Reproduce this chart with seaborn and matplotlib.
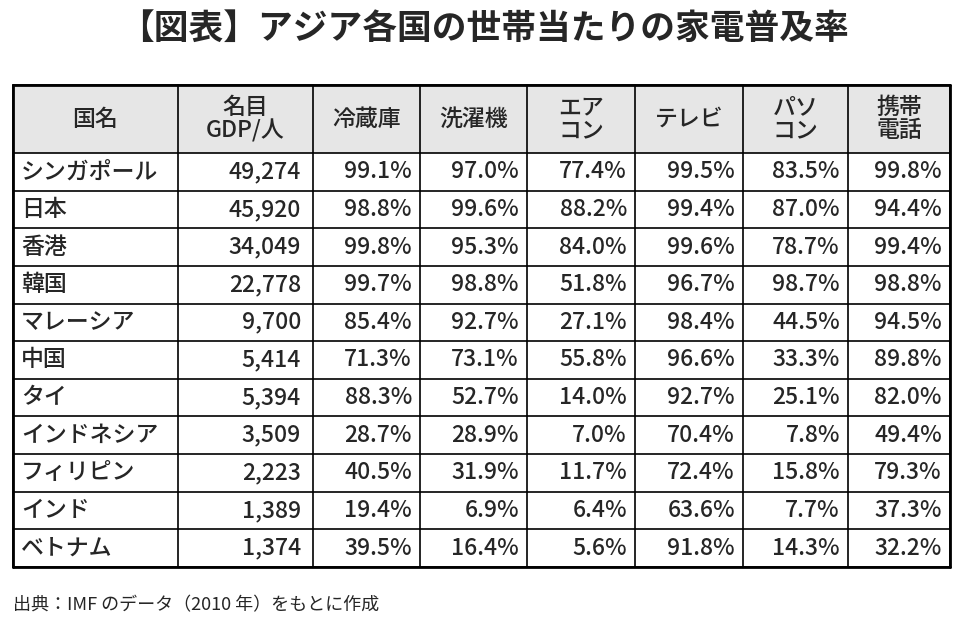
import matplotlib
matplotlib.use("Agg")
import matplotlib.pyplot as plt
import seaborn as sns
from matplotlib.patches import Rectangle

sns.set_theme(style="white")
plt.rcParams["font.family"] = "Noto Sans CJK JP"

title = "【図表】アジア各国の世帯当たりの家電普及率"
headers = ["国名", "名目\nGDP/人", "冷蔵庫", "洗濯機", "エア\nコン", "テレビ", "パソ\nコン", "携帯\n電話"]
countries = ["シンガポール", "日本", "香港", "韓国", "マレーシア", "中国", "タイ", "インドネシア", "フィリピン", "インド", "ベトナム"]
gdp = [49274, 45920, 34049, 22778, 9700, 5414, 5394, 3509, 2223, 1389, 1374]
fridge = [99.1, 98.8, 99.8, 99.7, 85.4, 71.3, 88.3, 28.7, 40.5, 19.4, 39.5]
washer = [97.0, 99.6, 95.3, 98.8, 92.7, 73.1, 52.7, 28.9, 31.9, 6.9, 16.4]
aircon = [77.4, 88.2, 84.0, 51.8, 27.1, 55.8, 14.0, 7.0, 11.7, 6.4, 5.6]
tv = [99.5, 99.4, 99.6, 96.7, 98.4, 96.6, 92.7, 70.4, 72.4, 63.6, 91.8]
pc = [83.5, 87.0, 78.7, 98.7, 44.5, 33.3, 25.1, 7.8, 15.8, 7.7, 14.3]
mobile = [99.8, 94.4, 99.4, 98.8, 94.5, 89.8, 82.0, 49.4, 79.3, 37.3, 32.2]
source = "出典：IMF のデータ（2010 年）をもとに作成"

fig = plt.figure(figsize=(9.69, 6.26), dpi=100)
ax = fig.add_axes([0, 0, 1, 1])
ax.set_xlim(0, 969); ax.set_ylim(626, 0); ax.axis("off")

xe = [13, 178, 313, 420, 527, 635, 743, 848, 950]
top, hb, bot = 85, 153, 567
rh = (bot - hb) / len(countries)

ax.add_patch(Rectangle((xe[0], top), xe[-1]-xe[0], hb-top, facecolor="#e6e6e6", edgecolor="none"))
for i, h in enumerate(headers):
    ax.text((xe[i]+xe[i+1])/2, (top+hb)/2, h, ha="center", va="center", fontsize=16.5, linespacing=1.0, fontweight="medium")

cols = [fridge, washer, aircon, tv, pc, mobile]
for r, c in enumerate(countries):
    yc = hb + rh*(r+0.5)
    ax.text(xe[0]+8, yc, c, ha="left", va="center", fontsize=16.5, fontweight="medium")
    ax.text(xe[2]-12, yc, f"{gdp[r]:,}", ha="right", va="center", fontsize=16.5, fontweight="medium")
    for j, col in enumerate(cols):
        ax.text(xe[j+3]-8, yc, f"{col[r]:.1f}%", ha="right", va="center", fontsize=16.5, fontweight="medium")

for x in xe:
    ax.plot([x, x], [top, bot], color="black", lw=1.2)
ys = [top, hb] + [hb + rh*k for k in range(1, len(countries)+1)]
for y in ys:
    ax.plot([xe[0], xe[-1]], [y, y], color="black", lw=1.2)
ax.plot([xe[0], xe[-1]], [top, top], color="black", lw=2)
ax.plot([xe[0], xe[-1]], [bot, bot], color="black", lw=2)
ax.plot([xe[0], xe[0]], [top, bot], color="black", lw=2)
ax.plot([xe[-1], xe[-1]], [top, bot], color="black", lw=2)

ax.text(484, 28, title, ha="center", va="center", fontsize=25, fontweight="heavy")
ax.text(13, 605, source, ha="left", va="center", fontsize=13)

fig.savefig("out.png", dpi=100)
